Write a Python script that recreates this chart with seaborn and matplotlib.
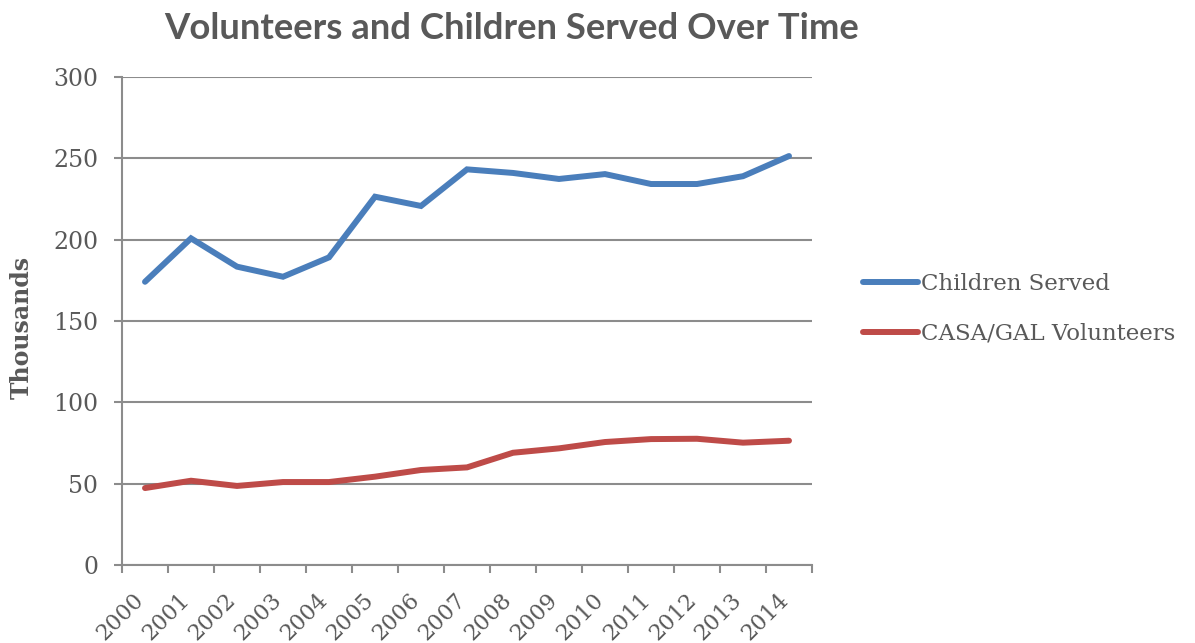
import numpy as np
import pandas as pd
import matplotlib
matplotlib.use("Agg")
import matplotlib.pyplot as plt
import matplotlib.transforms as mtransforms
import seaborn as sns

years = ["2000", "2001", "2002", "2003", "2004", "2005", "2006", "2007",
         "2008", "2009", "2010", "2011", "2012", "2013", "2014"]
children_served = [174.1, 200.8, 183.4, 177.2, 189.1, 226.4, 220.7, 243.2,
                   241.0, 237.3, 240.3, 234.2, 234.2, 239.0, 251.4]
volunteers = [47.3, 51.8, 48.6, 51.0, 51.0, 54.3, 58.4, 60.0,
              69.0, 71.7, 75.6, 77.4, 77.6, 75.2, 76.4]
series_names = ["Children Served", "CASA/GAL Volunteers"]
y_ticks = [0, 50, 100, 150, 200, 250, 300]

sns.set_theme(style="white")
plt.rcParams["font.family"] = ["DejaVu Serif"]

grey = "#595959"
grid_grey = "#8c8c8c"

idx = np.arange(len(years))
df = pd.DataFrame({
    "pos": np.concatenate([idx, idx]),
    "value": children_served + volunteers,
    "series": [series_names[0]] * len(years) + [series_names[1]] * len(years),
})

fig = plt.figure(figsize=(11.95, 6.43), dpi=100)
ax = fig.add_axes([0.1021, 0.1213, 0.5774, 0.759])

sns.lineplot(data=df, x="pos", y="value", hue="series",
             palette={series_names[0]: "#4A7EBB", series_names[1]: "#BE4B48"},
             linewidth=4.3, ax=ax, legend=True)
for ln in ax.get_lines():
    ln.set_solid_capstyle("round")
    ln.set_solid_joinstyle("miter")

ax.set_xlim(-0.5, len(years) - 0.5)
ax.set_ylim(0, 300)
ax.set_yticks(y_ticks)
ax.yaxis.grid(True, color=grid_grey, linewidth=1.5)
ax.set_axisbelow(True)

ax.set_xticks(idx)
ax.set_xticklabels(years, rotation=45, ha="right", rotation_mode="anchor",
                   fontsize=16, color=grey)
ax.set_xticks(np.arange(len(years) + 1) - 0.5, minor=True)
ax.tick_params(axis="x", which="major", length=0, pad=16)
ax.tick_params(axis="x", which="minor", length=6, width=1.5, color=grid_grey,
               direction="out", bottom=True)
ax.tick_params(axis="y", length=6, width=1.5, color=grid_grey, left=True,
               direction="out", labelsize=17, labelcolor=grey, pad=11)

# nudge the slanted year labels so they sit left of each category centre
shift = mtransforms.ScaledTranslation(-12 / 100, -2 / 100, fig.dpi_scale_trans)
for lbl in ax.get_xticklabels():
    lbl.set_transform(lbl.get_transform() + shift)

for side in ["top", "right"]:
    ax.spines[side].set_visible(False)
for side in ["left", "bottom"]:
    ax.spines[side].set_color(grid_grey)
    ax.spines[side].set_linewidth(1.5)

ax.set_xlabel("")
ax.set_ylabel("Thousands", fontsize=17, fontweight="bold", color=grey)
ax.yaxis.set_label_coords(-0.128, 0.486)

handles, labels = ax.get_legend_handles_labels()
ax.legend(handles, labels, loc="center left", bbox_to_anchor=(1.0445, 0.525),
          frameon=False, fontsize=16.5, labelcolor=grey, handlelength=2.4,
          handletextpad=0.13, labelspacing=1.2)

fig.text(0.428, 0.955, "Volunteers and Children Served Over Time",
         ha="center", va="center", fontsize=26.3, fontweight="bold",
         color=grey, family=["Lato", "DejaVu Sans"])

fig.savefig("out.png", dpi=100)
